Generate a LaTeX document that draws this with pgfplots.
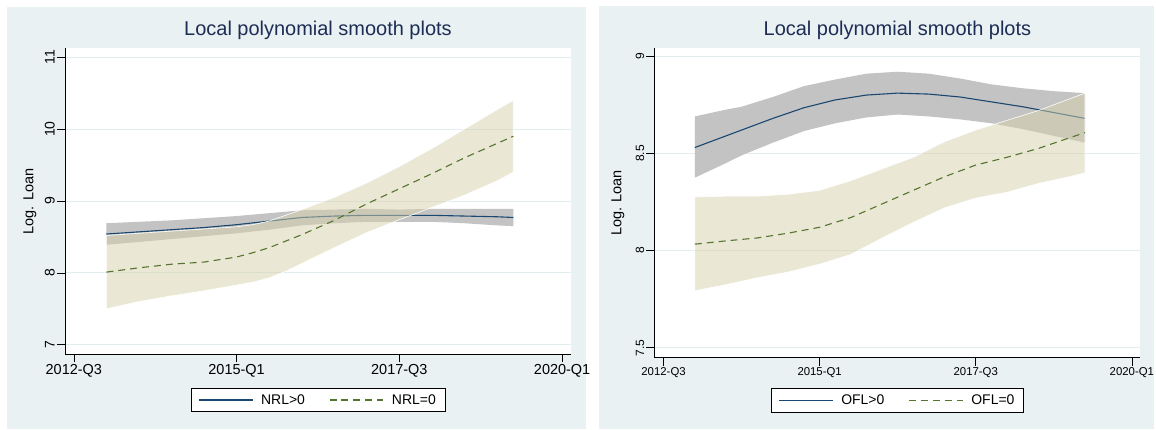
\documentclass[border=0pt]{standalone}
\usepackage{fontspec}
\setmainfont{Liberation Sans}
\usepackage{pgfplots}
\pgfplotsset{compat=1.18}
\usepackage{pgfplotstable}

\definecolor{bgc}{RGB}{233,241,243}
\definecolor{gridc}{RGB}{226,237,240}
\definecolor{titlec}{RGB}{30,45,85}
\definecolor{navyc}{RGB}{26,71,111}
\definecolor{greenc}{RGB}{85,117,47}
\definecolor{grayband}{RGB}{195,195,195}
\definecolor{khaki}{RGB}{214,209,172}

% x: quarters since 2012-Q3 (0 = 2012-Q3, 10 = 2015-Q1, 20 = 2017-Q3, 30 = 2020-Q1)
% ---- left panel: NRL>0 ----
\pgfplotstableread{
x y
2 8.54
4 8.57
6 8.60
8 8.63
10 8.67
12 8.72
14 8.77
16 8.79
18 8.80
20 8.80
22 8.80
24 8.79
26 8.78
27 8.77
}\leftAline
% CI band: upper bound forward, lower bound backward
\pgfplotstableread{
x y
2 8.69
4 8.71
6 8.73
8 8.76
10 8.79
12 8.83
14 8.87
16 8.88
18 8.89
20 8.88
22 8.89
24 8.89
26 8.89
27 8.89
27 8.65
26 8.66
24 8.69
22 8.71
20 8.71
18 8.71
16 8.69
14 8.66
12 8.60
10 8.55
8 8.51
6 8.47
4 8.43
2 8.39
2 8.69
}\leftAband
% ---- left panel: NRL=0 ----
\pgfplotstableread{
x y
2 8.01
4 8.07
6 8.12
8 8.15
10 8.22
11 8.28
12 8.35
13 8.44
14 8.53
16 8.73
18 8.96
20 9.17
22 9.38
24 9.60
26 9.80
27 9.90
}\leftBline
\pgfplotstableread{
x y
2 8.52
4 8.55
6 8.58
8 8.61
10 8.64
11 8.67
12 8.72
13 8.80
14 8.88
16 9.05
18 9.25
20 9.48
22 9.73
24 10.00
26 10.27
27 10.40
27 9.40
26 9.28
24 9.08
22 8.91
20 8.74
18 8.56
16 8.35
14 8.13
13 8.02
12 7.93
11 7.87
10 7.83
8 7.75
6 7.68
4 7.60
2 7.50
2 8.52
}\leftBband
% ---- right panel: OFL>0 ----
\pgfplotstableread{
x y
2 8.530
4 8.590
5 8.620
7 8.680
9 8.735
11 8.775
13 8.800
15 8.810
17 8.805
19 8.790
21 8.765
23 8.740
25 8.710
27 8.680
}\rightAline
\pgfplotstableread{
x y
2 8.690
4 8.725
5 8.740
7 8.790
9 8.846
11 8.880
13 8.910
15 8.920
17 8.910
19 8.885
21 8.855
23 8.835
25 8.820
27 8.810
27 8.555
25 8.590
23 8.625
21 8.655
19 8.675
17 8.690
15 8.700
13 8.685
11 8.655
9 8.615
7 8.555
5 8.490
4 8.450
2 8.375
2 8.690
}\rightAband
% ---- right panel: OFL=0 ----
\pgfplotstableread{
x y
2 8.033
4 8.050
6 8.065
8 8.090
10 8.120
12 8.170
14 8.240
16 8.310
18 8.380
20 8.440
22 8.480
24 8.525
26 8.580
27 8.607
}\rightBline
\pgfplotstableread{
x y
2 8.276
4 8.280
6 8.280
8 8.290
10 8.310
12 8.360
14 8.420
16 8.480
18 8.560
20 8.620
22 8.670
24 8.720
26 8.780
27 8.810
27 8.400
26 8.380
24 8.345
22 8.300
20 8.270
18 8.220
16 8.145
14 8.065
12 7.980
10 7.930
8 7.890
6 7.860
4 7.825
2 7.793
2 8.276
}\rightBband

\pgfplotsset{
  stata/.style={
    scale only axis,
    axis x line=bottom, axis y line=left,
    axis line style={-, black, line width=0.7pt},
    axis background/.style={fill=white},
    tick align=outside,
    major tick length=8pt,
    tick style={black, line width=0.6pt},
    ymajorgrids, grid style={gridc, line width=0.9pt},
    xtick={0,10,20,30},
    xticklabels={2012-Q3,2015-Q1,2017-Q3,2020-Q1},
    xticklabel style={inner sep=2pt},
    yticklabel style={rotate=90, anchor=south, inner sep=2pt},
    /pgf/number format/assume math mode=true,
    title={Local polynomial smooth plots},
    title style={at={(0.5,1)}, anchor=base, yshift=6.6pt, text=titlec, font=\fontsize{20}{24}\selectfont},
    ylabel={Log. Loan},
    legend columns=2,
    legend image code/.code={\draw[##1] (0pt,0pt) -- (54pt,0pt);},
    legend style={draw=black, line width=0.6pt, fill=white, font=\fontsize{14}{16}\selectfont,
      /tikz/every odd column/.append style={column sep=6pt},
      /tikz/every even column/.append style={column sep=22pt},
      inner xsep=7pt, inner ysep=4pt, anchor=center},
  },
  band1/.style={fill=grayband, draw=none, forget plot},
  band2/.style={fill=khaki, fill opacity=0.5, draw=white, line width=0.6pt, forget plot},
  line1/.style={navyc, line width=1.1pt},
  line2/.style={greenc, line width=1.1pt, dash pattern=on 7pt off 5pt},
}

\begin{document}
\begin{tikzpicture}[x=1pt,y=1pt]
\fill[white] (0,0) rectangle (1156,430);
\fill[bgc] (6.7,0) rectangle (586.7,423);
\fill[bgc] (600,0) rectangle (1156,424);

\begin{axis}[stata,
  at={(65pt,75pt)}, anchor=south west,
  width=507pt, height=306.7pt,
  xmin=-0.55, xmax=30.55,
  ymin=6.865, ymax=11.125,
  ytick={7,8,9,10,11},
  xticklabel style={font=\fontsize{14.5}{16}\selectfont},
  yticklabel style={font=\fontsize{14}{16}\selectfont},
  ylabel style={at={(axis description cs:-0.069,0.5)}, anchor=center, font=\fontsize{14.5}{16}\selectfont},
  legend style={at={(0.5,-0.149)}},
]
\addplot[band1] table[x=x,y=y]{\leftAband};
\addplot[line1] table[x=x,y=y]{\leftAline};
\addlegendentry{NRL>0}
\addplot[band2] table[x=x,y=y]{\leftBband};
\addplot[line2] table[x=x,y=y]{\leftBline};
\addlegendentry{NRL=0}
\end{axis}

\begin{axis}[stata,
  at={(655.4pt,71.7pt)}, anchor=south west,
  width=486.9pt, height=310pt,
  xmin=-0.59, xmax=30.55,
  ymin=7.449, ymax=9.041,
  ytick={7.5,8,8.5,9},
  yticklabels={7.5,8,8.5,9},
  xticklabel style={font=\fontsize{11.4}{13}\selectfont},
  yticklabel style={font=\fontsize{12}{14}\selectfont},
  ylabel style={at={(axis description cs:-0.075,0.5)}, anchor=center, font=\fontsize{14.5}{16}\selectfont},
  legend style={at={(0.5,-0.1375)}},
]
\addplot[band1] table[x=x,y=y]{\rightAband};
\addplot[line1] table[x=x,y=y]{\rightAline};
\addlegendentry{OFL>0}
\addplot[band2] table[x=x,y=y]{\rightBband};
\addplot[line2] table[x=x,y=y]{\rightBline};
\addlegendentry{OFL=0}
\end{axis}
\end{tikzpicture}
\end{document}
